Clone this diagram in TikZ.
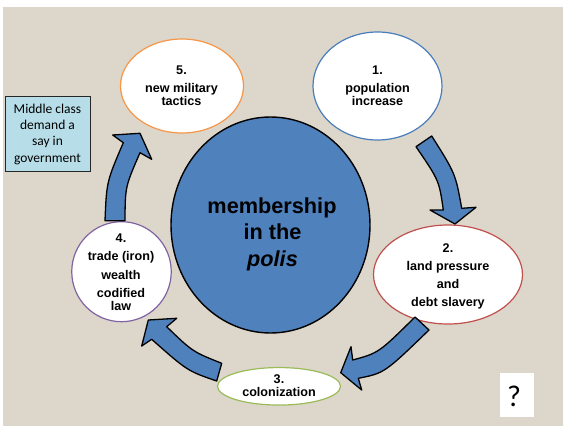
\documentclass[tikz,border=0pt]{standalone}
\usepackage{fontspec}
\setmainfont{Liberation Sans}
\newfontfamily\calib{Carlito}
\usetikzlibrary{shapes.geometric}
\definecolor{bgbeige}{RGB}{221,214,203}
\definecolor{arrowblue}{RGB}{79,129,189}
\definecolor{olblue}{RGB}{74,126,187}
\definecolor{olorange}{RGB}{247,150,70}
\definecolor{olred}{RGB}{192,80,77}
\definecolor{olgreen}{RGB}{155,187,89}
\definecolor{olpurple}{RGB}{128,100,162}
\definecolor{boxblue}{RGB}{183,222,232}
\begin{document}
\begin{tikzpicture}[x=1pt,y=-1pt,
  ell/.style={ellipse, fill=white, line width=1.2pt, inner sep=0pt},
  lbl/.style={anchor=base, inner sep=0pt, font=\fontsize{12.6}{14}\selectfont\bfseries},
  big/.style={anchor=base, inner sep=0pt, font=\fontsize{21.7}{26}\selectfont\bfseries},
  boxtxt/.style={anchor=base, inner sep=0pt, font=\calib\fontsize{13.5}{16}\selectfont},
  blk/.style={fill=arrowblue, draw=black, line width=1.3pt, line join=round}]
\useasboundingbox (0,0) rectangle (563,426);
\fill[white] (0,0) rectangle (563,426);
\fill[bgbeige] (3,7) rectangle (563,426);

% central circle
\node[ellipse, fill=arrowblue, draw=black, line width=1.4pt, inner sep=0pt,
      minimum width=199pt, minimum height=216pt] (c) at (270.5,225) {};
\node[big] (ca) at (272,213) {membership};
\node[big] (cb) at (272.5,239) {in the};
\node[big] (cc) at (272.5,266) {\itshape polis};

% ellipses
\node[ell, draw=olblue, minimum width=129pt, minimum height=108pt] (e1) at (377.5,86) {};
\node[ell, draw=olorange, minimum width=123pt, minimum height=94pt] (e5) at (182,86) {};
\node[ell, draw=olred, minimum width=149pt, minimum height=99pt] (e2) at (448,274.5) {};
\node[ell, draw=olgreen, minimum width=123pt, minimum height=37.5pt] (e3) at (279,386.3) {};
\node[ell, draw=olpurple, minimum width=99.5pt, minimum height=100pt] (e4) at (121.5,271.7) {};

% arrows
\draw[blk] (416,146.7) .. controls (439.1,180.5) .. (443.3,210) -- (430,210) -- (455,224)
  -- (476,207.3) -- (461.7,208.3) .. controls (455.5,173.7) .. (431.7,136) -- cycle;
\draw[blk] (415,317) .. controls (378.7,352.9) .. (352.7,360) -- (351,346.7) -- (340.7,372.7)
  -- (361.7,390) -- (358.3,378.3) .. controls (384.4,373.1) .. (429,330) -- cycle;
\draw[blk] (221.7,363.3) .. controls (192.6,351.7) .. (166.7,326.7) -- (176.7,318.3) -- (148.3,320)
  -- (141.7,346) -- (151.7,339.3) .. controls (187.5,371) .. (216.7,381) -- cycle;
\draw[blk] (105,220.7) .. controls (106.6,181.7) .. (123.3,142.7) -- (112.7,135) -- (140,133.3)
  -- (151.7,159.3) -- (140,152.7) .. controls (125.2,186.7) .. (125,220.7) -- cycle;

% ellipse texts
\node[lbl] (t1a) at (377.5,74) {1.};
\node[lbl] (t1b) at (377.5,92.5) {population};
\node[lbl] (t1c) at (377.5,105.5) {increase};

\node[lbl] (t5a) at (181.5,74) {5.};
\node[lbl] (t5b) at (181.5,92.5) {new military};
\node[lbl] (t5c) at (181.5,105.5) {tactics};

\node[lbl] (t2a) at (448,252) {2.};
\node[lbl] (t2b) at (448,270) {land pressure};
\node[lbl] (t2c) at (448,288) {and};
\node[lbl] (t2d) at (448,306) {debt slavery};

\node[lbl] (t3a) at (279,383.5) {3.};
\node[lbl] (t3b) at (279,396) {colonization};

\node[lbl] (t4a) at (121,242) {4.};
\node[lbl] (t4b) at (121,260) {trade (iron)};
\node[lbl] (t4c) at (121,279) {wealth};
\node[lbl] (t4d) at (121,297) {codified};
\node[lbl] (t4e) at (121,310) {law};

% middle class box
\node[draw=black!85, fill=boxblue, line width=1pt, inner sep=0pt,
      minimum width=85pt, minimum height=74.5pt] (mc) at (47.5,133.8) {};
\node[boxtxt] (mca) at (47.5,113.3) {Middle class};
\node[boxtxt] (mcb) at (47.5,129.8) {demand a};
\node[boxtxt] (mcc) at (47.5,145.9) {say in};
\node[boxtxt] (mcd) at (47.5,162) {government};

% question box
\node[fill=white, inner sep=0pt, minimum width=34pt, minimum height=44pt] (q) at (517,395) {};
\node[anchor=base, inner sep=0pt, font=\calib\fontsize{30}{32}\selectfont] (qt) at (514,406) {?};
\end{tikzpicture}
\end{document}
